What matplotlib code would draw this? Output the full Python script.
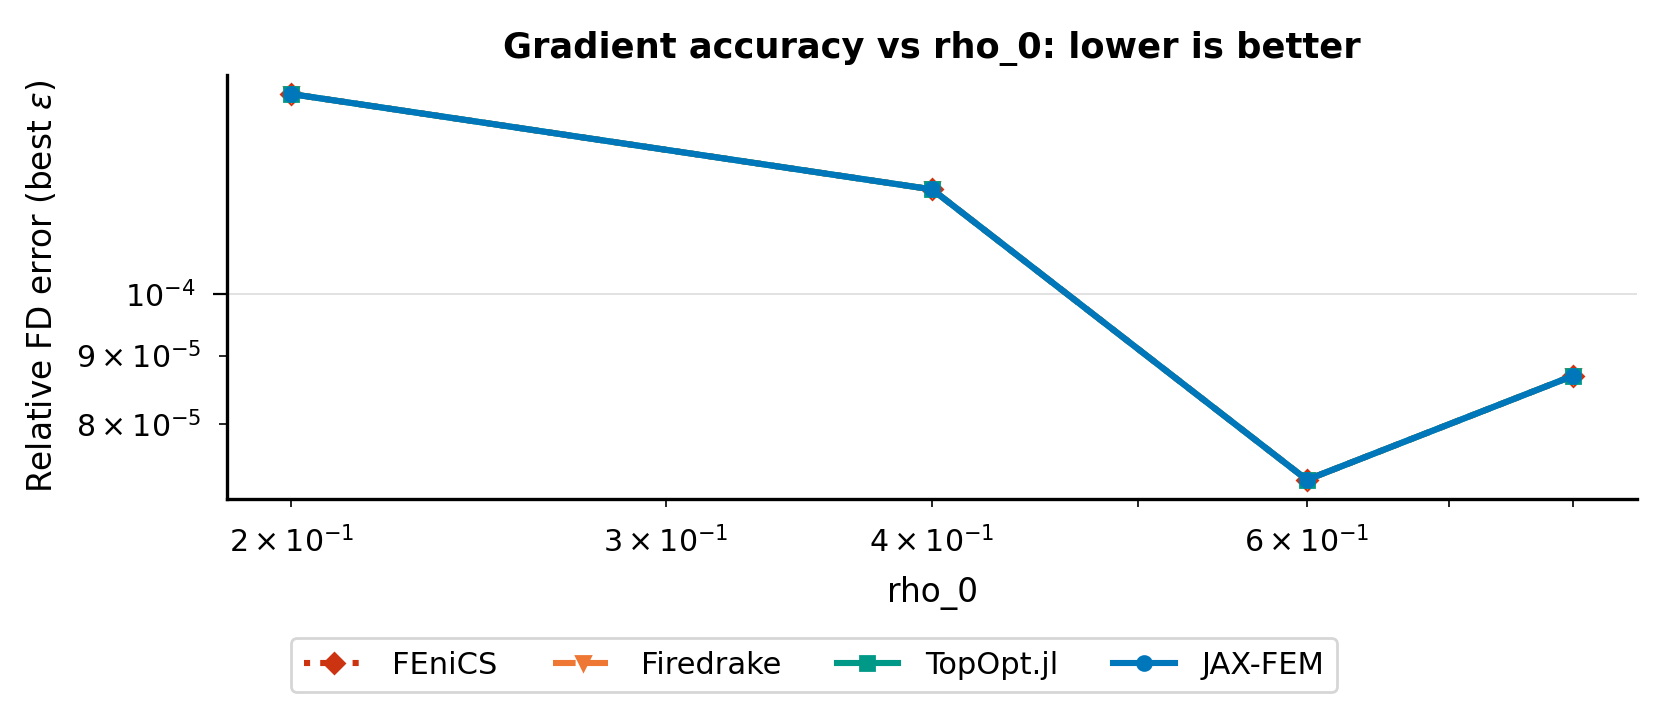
import matplotlib
matplotlib.use("Agg")
import matplotlib.pyplot as plt

rho_0 = [0.2, 0.4, 0.6, 0.8]
fenics = [1.41e-4, 1.197e-4, 7.27e-5, 8.69e-5]
firedrake = [1.41e-4, 1.197e-4, 7.27e-5, 8.69e-5]
topopt = [1.41e-4, 1.197e-4, 7.27e-5, 8.69e-5]
jaxfem = [1.41e-4, 1.197e-4, 7.27e-5, 8.69e-5]

plt.rcParams.update({
    'xtick.labelsize': 10.8, 'ytick.labelsize': 10.8,
    'xtick.major.size': 5, 'ytick.major.size': 5,
    'xtick.minor.size': 2.8, 'ytick.minor.size': 2.8,
    'xtick.major.pad': 7, 'ytick.major.pad': 6.5,
    'xtick.minor.pad': 7, 'ytick.minor.pad': 6.5,
})

fig = plt.figure(figsize=(8.36, 3.56), dpi=200)
ax = fig.add_axes([0.136, 0.299, 0.843, 0.596])

ax.plot(rho_0, fenics, ':D', color='#cc3311', label='FEniCS', linewidth=2.2, markersize=5)
ax.plot(rho_0, firedrake, '--v', color='#ee7733', label='Firedrake', linewidth=2.2, markersize=5)
ax.plot(rho_0, topopt, '-s', color='#009988', label='TopOpt.jl', linewidth=2.2, markersize=5)
ax.plot(rho_0, jaxfem, '-o', color='#0077bb', label='JAX-FEM', linewidth=2.2, markersize=5)

ax.set_xscale('log')
ax.set_yscale('log')
ax.grid(True, which='major', axis='y', color='#dddddd', linewidth=0.6)
ax.set_axisbelow(True)
ax.spines['top'].set_visible(False)
ax.spines['right'].set_visible(False)
for s in ('left', 'bottom'):
    ax.spines[s].set_linewidth(1.2)

ax.set_xlabel("rho_0", fontsize=11.8, labelpad=6)
ax.set_ylabel(r"Relative FD error (best $\epsilon$)", fontsize=11.8, labelpad=6)
ax.set_title("Gradient accuracy vs rho_0: lower is better", fontweight='bold', fontsize=12.7)

fig.legend(loc='center', bbox_to_anchor=(0.487, 0.066), ncol=4, frameon=True,
           edgecolor='#cccccc', fontsize=11, handlelength=2.0, handletextpad=0.9,
           columnspacing=1.8)

fig.savefig("out.png", dpi=200)
